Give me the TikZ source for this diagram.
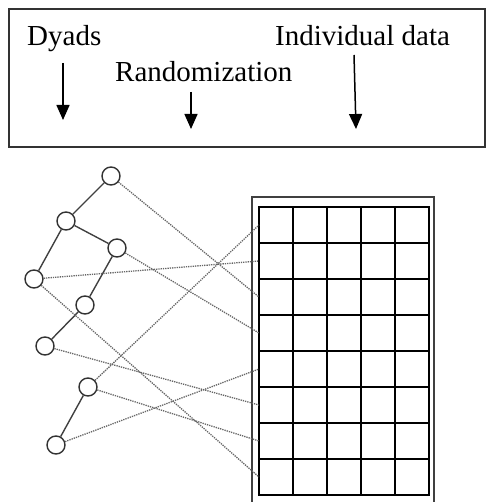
\documentclass[tikz,border=0pt]{standalone}
\usepackage{fontspec}
\setmainfont{Liberation Serif}
\usetikzlibrary{arrows.meta}

\begin{document}
\begin{tikzpicture}[x=1pt, y=-1pt,
    dyad/.style={circle, draw=black!80, line width=1.4pt, minimum size=18pt, inner sep=0pt},
    tie/.style={draw=black!75, line width=1.4pt},
    link/.style={draw=black!60, line width=1.3pt, densely dotted},
    heading/.style={anchor=base west, inner sep=0pt, font=\fontsize{29}{31}\selectfont},
    pointer/.style={line width=1.5pt, -{Triangle[width=13pt, length=15pt]}},
    cell/.style={line width=1.6pt, line cap=rect}]
  \useasboundingbox (0,0) rectangle (486,502);
  \clip (0,0) rectangle (486,502);

  % Legend box
  \draw[black!80, line width=1.3pt] (9,9) rectangle (485,147);
  \node[heading] (dyads) at (27,46) {Dyads};
  \node[heading] (rand) at (115,82) {Randomization};
  \node[heading] (indiv) at (275,46) {Individual data};

  % Arrows
  \coordinate (dyads top) at (63,63);
  \coordinate (dyads tip) at (63,120);
  \coordinate (rand top) at (191,92);
  \coordinate (rand tip) at (191,129);
  \coordinate (indiv top) at (354,55);
  \coordinate (indiv tip) at (356,129);
  \draw[pointer] (dyads top) -- (dyads tip);
  \draw[pointer] (rand top) -- (rand tip);
  \draw[pointer] (indiv top) -- (indiv tip);

  % Dyad tree
  \foreach \n/\x/\y in {n1/111/176, n2/66/221, n3/117/248, n4/34/279,
                        n5/85/305, n6/45/346, n7/88/387, n8/56/445} {
    \node[dyad] (\n) at (\x,\y) {};
  }
  \foreach \a/\b in {n1/n2, n2/n3, n2/n4, n3/n5, n5/n6, n7/n8} {
    \draw[tie] (\a) -- (\b);
  }

  % Data table
  \draw[black!75, line width=1.2pt] (252,520) -- (252,197) -- (434,197) -- (434,520);
  \foreach \i in {0,...,5} {
    \draw[cell] (259+34*\i,207) -- (259+34*\i,495);
  }
  \foreach \j in {0,...,8} {
    \draw[cell] (259,207+36*\j) -- (429,207+36*\j);
  }
  \foreach \j in {1,...,8} {
    \coordinate (r\j) at (259,189+36*\j);
  }

  % Random assignment
  \foreach \a/\b in {n7/r1, n4/r2, n1/r3, n3/r4, n8/r5, n6/r6, n7/r7, n4/r8} {
    \draw[link] (\a) -- (\b);
  }
\end{tikzpicture}
\end{document}
